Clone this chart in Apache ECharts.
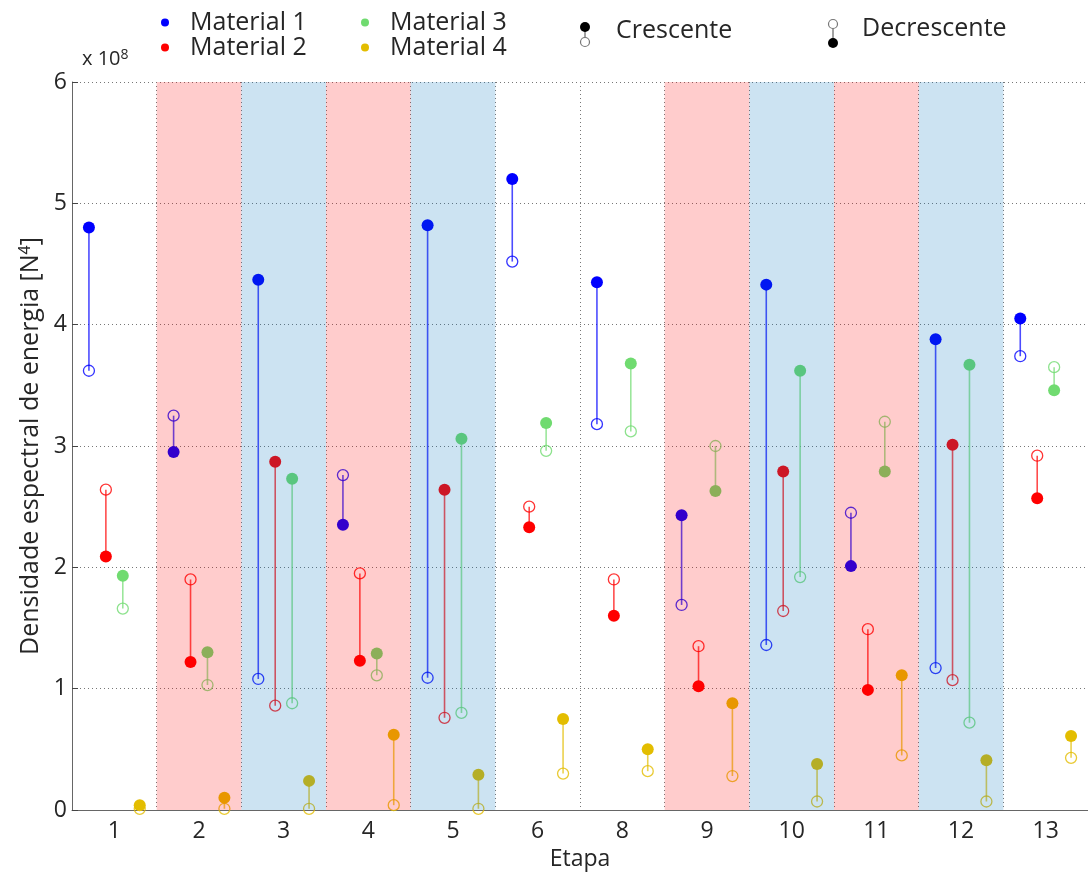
<!DOCTYPE html>
<html>
<head>
<meta charset="utf-8">
<script src="https://cdn.jsdelivr.net/npm/echarts@6/dist/echarts.min.js"></script>
<style>
  html, body { margin: 0; padding: 0; background: #fff; }
  #main { width: 1088px; height: 872px; }
</style>
</head>
<body>
<div id="main"></div>
<script>
// etapas (a 7 não existe no ensaio)
const categories = ['1', '2', '3', '4', '5', '6', '8', '9', '10', '11', '12', '13'];
const yTicks = [0, 1, 2, 3, 4, 5, 6];

// valores em x 10^8 : ponto cheio / ponto vazio
const m1Filled = [4.80, 2.95, 4.37, 2.35, 4.82, 5.20, 4.35, 2.43, 4.33, 2.01, 3.88, 4.05];
const m1Open   = [3.62, 3.25, 1.08, 2.76, 1.09, 4.52, 3.18, 1.69, 1.36, 2.45, 1.17, 3.74];
const m2Filled = [2.09, 1.22, 2.87, 1.23, 2.64, 2.33, 1.60, 1.02, 2.79, 0.99, 3.01, 2.57];
const m2Open   = [2.64, 1.90, 0.86, 1.95, 0.76, 2.50, 1.90, 1.35, 1.64, 1.49, 1.07, 2.92];
const m3Filled = [1.93, 1.30, 2.73, 1.29, 3.06, 3.19, 3.68, 2.63, 3.62, 2.79, 3.67, 3.46];
const m3Open   = [1.66, 1.03, 0.88, 1.11, 0.80, 2.96, 3.12, 3.00, 1.92, 3.20, 0.72, 3.65];
const m4Filled = [0.04, 0.10, 0.24, 0.62, 0.29, 0.75, 0.50, 0.88, 0.38, 1.11, 0.41, 0.61];
const m4Open   = [0.01, 0.01, 0.01, 0.04, 0.01, 0.30, 0.32, 0.28, 0.07, 0.45, 0.07, 0.43];

// faixas de fundo (índice da etapa)
const redBands = [1, 3, 7, 9];
const blueBands = [2, 4, 8, 10];

const materials = [
    {name: 'Material 1', color: '#0000ff', filled: m1Filled, open: m1Open, off: -0.3},
    {name: 'Material 2', color: '#ff0000', filled: m2Filled, open: m2Open, off: -0.1},
    {name: 'Material 3', color: '#70db70', filled: m3Filled, open: m3Open, off: 0.1},
    {name: 'Material 4', color: '#e3bd00', filled: m4Filled, open: m4Open, off: 0.3}
];

const FONT = '"Open Sans", sans-serif';
const TXT = '#262626';

let myChart = echarts.init(document.getElementById('main'));

let series = [];
materials.forEach(m => {
    //linha entre os dois pontos
    series.push({
        name: m.name + ' linha',
        type: 'custom',
        xAxisIndex: 1,
        z: 2,
        data: m.filled.map((v, i) => [i + 0.5 + m.off, v, m.open[i]]),
        renderItem: (params, api) => {
            const a = api.coord([api.value(0), api.value(1)]);
            const b = api.coord([api.value(0), api.value(2)]);
            return {
                type: 'line',
                shape: {x1: a[0], y1: a[1], x2: b[0], y2: b[1]},
                style: {stroke: m.color, lineWidth: 1.6, opacity: 0.7}
            };
        }
    });
    series.push({
        name: m.name,
        type: 'scatter',
        xAxisIndex: 1,
        z: 3,
        symbol: 'circle',
        symbolSize: 12,
        itemStyle: {color: m.color, opacity: 1},
        data: m.filled.map((v, i) => [i + 0.5 + m.off, v])
    });
    series.push({
        name: m.name + ' vazio',
        type: 'scatter',
        xAxisIndex: 1,
        z: 3,
        symbol: 'circle',
        symbolSize: 11,
        itemStyle: {color: 'rgba(255,255,255,0)', borderColor: m.color, borderWidth: 1.3, opacity: 0.8},
        data: m.open.map((v, i) => [i + 0.5 + m.off, v])
    });
});

//faixas coloridas por cima (transparentes)
const bandSeries = (name, idx, fill) => ({
    name,
    type: 'custom',
    xAxisIndex: 1,
    z: 10,
    silent: true,
    data: idx.map(i => [i, i + 1]),
    renderItem: (params, api) => {
        const p0 = api.coord([api.value(0), 6]);
        const p1 = api.coord([api.value(1), 0]);
        return {
            type: 'rect',
            shape: {x: p0[0], y: p0[1], width: p1[0] - p0[0], height: p1[1] - p0[1]},
            style: {fill}
        };
    }
});
series.push(bandSeries('faixa vermelha', redBands, 'rgba(255,0,0,0.2)'));
series.push(bandSeries('faixa azul', blueBands, 'rgba(0,114,189,0.2)'));

const legendBase = {
    orient: 'vertical',
    top: 5,
    itemGap: 0,
    icon: 'circle',
    itemWidth: 8,
    itemHeight: 8,
    textStyle: {fontFamily: FONT, fontSize: 25, color: TXT, padding: [0, 0, 0, 16], lineHeight: 25}
};

const dotted = {color: '#777', width: 1, type: [1, 3]};

g_option = {
    animation: false,
    backgroundColor: '#fff',
    grid: {left: 72, right: 0, top: 82, bottom: 62, outerBoundsMode: 'none'},
    legend: [
        Object.assign({}, legendBase, {left: 156, data: ['Material 1', 'Material 2']}),
        Object.assign({}, legendBase, {left: 356, data: ['Material 3', 'Material 4']})
    ],
    xAxis: [
        {
            type: 'category',
            data: categories,
            boundaryGap: true,
            name: 'Etapa',
            nameLocation: 'middle',
            nameGap: 36,
            nameTextStyle: {fontFamily: FONT, fontSize: 23, color: TXT},
            axisLine: {lineStyle: {color: '#666', width: 1}},
            axisTick: {inside: true, length: 6, lineStyle: {color: '#444'}},
            axisLabel: {fontFamily: FONT, fontSize: 23, color: TXT, margin: 10},
            splitLine: {show: true, interval: 0, lineStyle: dotted}
        },
        {
            type: 'value',
            min: 0,
            max: 12,
            show: false
        }
    ],
    yAxis: {
        type: 'value',
        min: yTicks[0],
        max: yTicks[yTicks.length - 1],
        interval: 1,
        name: 'Densidade espectral de energia [N{sup|4}]',
        nameLocation: 'middle',
        nameRotate: 90,
        nameGap: 24,
        nameTextStyle: {
            fontFamily: FONT, fontSize: 25, color: TXT,
            rich: {sup: {fontFamily: FONT, fontSize: 16, color: TXT, verticalAlign: 'top', padding: [0, 0, 10, 0]}}
        },
        axisLine: {show: true, lineStyle: {color: '#666', width: 1}},
        axisTick: {show: true, inside: true, length: 6, lineStyle: {color: '#444'}},
        axisLabel: {fontFamily: FONT, fontSize: 23, color: TXT, margin: 5},
        splitLine: {show: true, lineStyle: dotted}
    },
    graphic: [
        {
            type: 'text',
            left: 82,
            top: 48,
            style: {
                text: 'x 10{s|8}',
                fontFamily: FONT, fontSize: 20, fill: TXT,
                rich: {s: {fontFamily: FONT, fontSize: 14, fill: TXT, verticalAlign: 'top', padding: [0, 0, 8, 0]}}
            }
        },
        //Crescente: cheio em cima, vazio em baixo
        {type: 'line', shape: {x1: 585, y1: 27, x2: 585, y2: 42}, style: {stroke: '#444', lineWidth: 1}},
        {type: 'circle', shape: {cx: 585, cy: 27, r: 5}, style: {fill: '#000'}},
        {type: 'circle', shape: {cx: 585, cy: 42, r: 4.5}, style: {fill: '#fff', stroke: '#777', lineWidth: 1.2}},
        {type: 'text', left: 616, top: 18, style: {text: 'Crescente', fontFamily: FONT, fontSize: 25, fill: TXT}},
        //Decrescente: vazio em cima, cheio em baixo
        {type: 'line', shape: {x1: 833, y1: 24, x2: 833, y2: 43}, style: {stroke: '#444', lineWidth: 1}},
        {type: 'circle', shape: {cx: 833, cy: 24, r: 4.5}, style: {fill: '#fff', stroke: '#777', lineWidth: 1.2}},
        {type: 'circle', shape: {cx: 833, cy: 43, r: 5}, style: {fill: '#000'}},
        {type: 'text', left: 862, top: 16, style: {text: 'Decrescente', fontFamily: FONT, fontSize: 25, fill: TXT}}
    ],
    series: series
};

myChart.setOption(g_option);
</script>
</body>
</html>
